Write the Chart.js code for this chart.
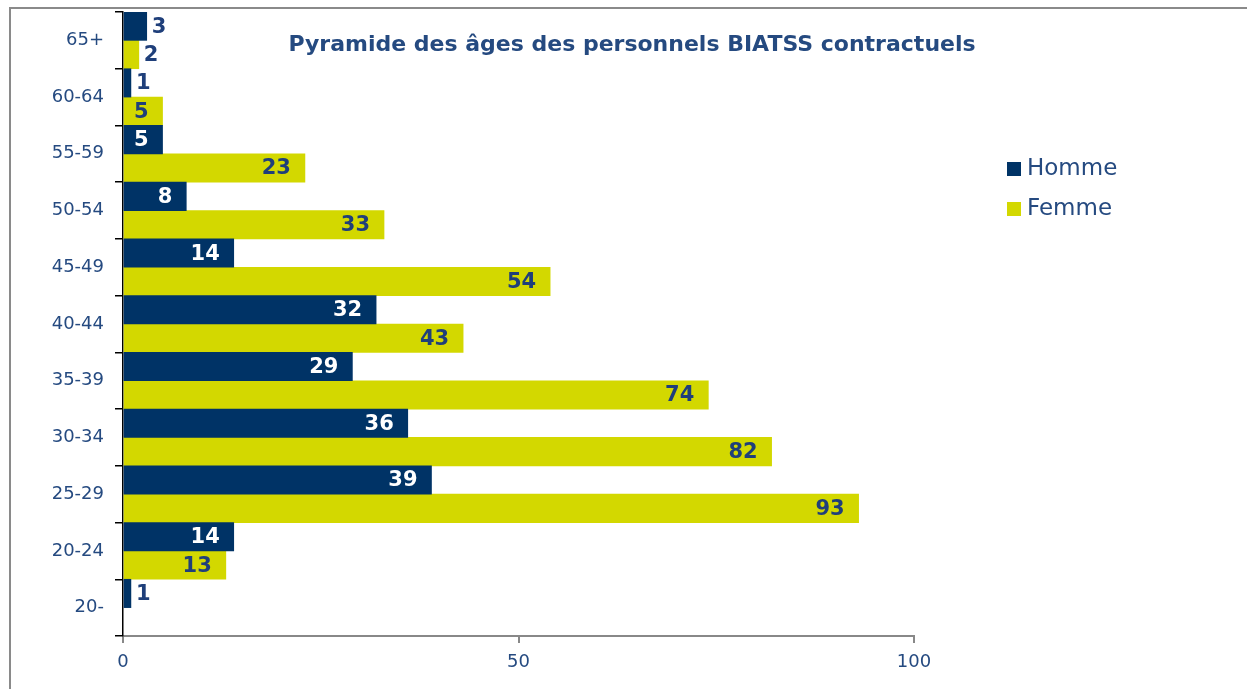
<!DOCTYPE html>
<html>
<head>
<meta charset="utf-8">
<script src="https://cdn.jsdelivr.net/npm/chart.js@4"></script>
<style>
  html, body { margin: 0; padding: 0; background: #fff; overflow: hidden; }
  #wrap { position: absolute; left: 0; top: 0; width: 1247px; height: 689px; }
</style>
</head>
<body>
<div id="wrap"><canvas id="pyramide"></canvas></div>
<script>
// données
const ageGroups = ["65+", "60-64", "55-59", "50-54", "45-49", "40-44", "35-39", "30-34", "25-29", "20-24", "20-"];
const hommes = [3, 1, 5, 8, 14, 32, 29, 36, 39, 14, 1];
const femmes = [2, 5, 23, 33, 54, 43, 74, 82, 93, 13, null];
const xTicks = [0, 50, 100];

const navy = "#003366";
const jaune = "#d3d800";
const texte = "#254a80";
const titre = "Pyramide des âges des personnels BIATSS contractuels";

// cadre gris du graphique (bords gauche et haut visibles)
const frame = {
    id: "frame",
    beforeDraw(chart) {
        const ctx = chart.ctx;
        ctx.save();
        ctx.strokeStyle = "#8a8a8a";
        ctx.lineWidth = 2;
        ctx.beginPath();
        ctx.moveTo(10, chart.height);
        ctx.lineTo(10, 8);
        ctx.lineTo(chart.width, 8);
        ctx.stroke();
        ctx.restore();
    }
};

// étiquettes de valeur au bout des barres
const valueLabels = {
    id: "valueLabels",
    afterDatasetsDraw(chart) {
        const ctx = chart.ctx;
        ctx.save();
        ctx.font = "bold 21px 'DejaVu Sans', sans-serif";
        ctx.textBaseline = "middle";
        chart.data.datasets.forEach((ds, di) => {
            const meta = chart.getDatasetMeta(di);
            meta.data.forEach((bar, i) => {
                const v = ds.data[i];
                if (v === null || v === undefined) return;
                const txt = String(v);
                const w = ctx.measureText(txt).width;
                const len = bar.x - bar.base;
                if (len >= w + 20) {
                    ctx.textAlign = "right";
                    ctx.fillStyle = di === 0 ? "#ffffff" : "#1f3f7a";
                    ctx.fillText(txt, bar.x - 14, bar.y + 1);
                } else {
                    ctx.textAlign = "left";
                    ctx.fillStyle = "#1f3f7a";
                    ctx.fillText(txt, bar.x + 5, bar.y + 1);
                }
            });
        });
        ctx.restore();
    }
};

// titre et légende dessinés dans la zone du graphique
const titleAndLegend = {
    id: "titleAndLegend",
    afterDraw(chart) {
        const ctx = chart.ctx;
        ctx.save();
        ctx.fillStyle = texte;
        ctx.font = "bold 22px 'DejaVu Sans', sans-serif";
        ctx.textAlign = "center";
        ctx.textBaseline = "middle";
        ctx.fillText(titre, 632, 45);

        ctx.font = "23px 'DejaVu Sans', sans-serif";
        ctx.textAlign = "left";
        chart.data.datasets.forEach((ds, i) => {
            const y = 169 + i * 40;
            ctx.fillStyle = ds.backgroundColor;
            ctx.fillRect(1007, y - 7, 14, 14);
            ctx.fillStyle = texte;
            ctx.fillText(ds.label, 1027, y);
        });
        ctx.restore();
    }
};

const chart = new Chart(document.getElementById("pyramide"), {
    type: "bar",
    data: {
        labels: ageGroups,
        datasets: [
            { label: "Homme", data: hommes, backgroundColor: navy, barPercentage: 1, categoryPercentage: 1 },
            { label: "Femme", data: femmes, backgroundColor: jaune, barPercentage: 1, categoryPercentage: 1 }
        ]
    },
    options: {
        indexAxis: "y",
        responsive: true,
        maintainAspectRatio: false,
        animation: false,
        layout: { padding: { left: 0, right: 333, top: 0, bottom: 0 } },
        plugins: {
            legend: { display: false },
            title: { display: false },
            tooltip: { enabled: false }
        },
        scales: {
            x: {
                min: 0,
                max: 100,
                afterBuildTicks(scale) {
                    scale.ticks = xTicks.map(v => ({ value: v }));
                },
                afterFit(scale) { scale.height = 689 - 636; },
                border: { color: "#888888", width: 2 },
                grid: { drawOnChartArea: false, color: "#888888", lineWidth: 2, tickLength: 7 },
                ticks: {
                    color: texte,
                    padding: 9,
                    font: { family: "'DejaVu Sans', sans-serif", size: 18 }
                }
            },
            y: {
                afterFit(scale) {
                    scale.width = 123;
                    scale.paddingTop = 12;
                    scale.paddingBottom = 0;
                },
                border: { color: "#000000", width: 1.5 },
                grid: { drawOnChartArea: false, color: "#000000", lineWidth: 1.5, tickLength: 8, offset: true },
                ticks: {
                    color: texte,
                    padding: 11,
                    font: { family: "'DejaVu Sans', sans-serif", size: 18 }
                }
            }
        }
    },
    plugins: [frame, valueLabels, titleAndLegend]
});
</script>
</body>
</html>
